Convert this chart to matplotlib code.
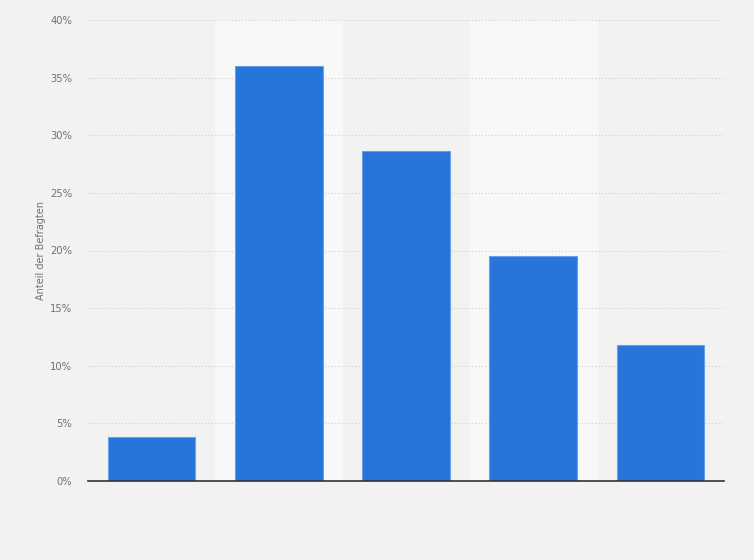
import numpy as np
import matplotlib.pyplot as plt
from matplotlib.ticker import FuncFormatter

categories = ['A', 'B', 'C', 'D', 'E']
values = [3.8, 36.0, 28.6, 19.5, 11.8]
y_ticks = [0, 5, 10, 15, 20, 25, 30, 35, 40]

fig = plt.figure(figsize=(7.54, 5.6), dpi=100)
fig.patch.set_facecolor('#f2f2f2')
ax = fig.add_axes([88 / 754, 79 / 560, 636 / 754, 461 / 560])
ax.set_facecolor('#f2f2f2')

x = np.arange(len(categories))
# lighter bands behind every second column
for i in x:
    if i % 2 == 1:
        ax.axvspan(i - 0.5, i + 0.5, color='#f8f8f8', zorder=0)

ax.bar(x, values, width=0.69, color='#2775db', edgecolor='#6aa0ea',
       linewidth=0.8, zorder=3)

ax.set_xlim(-0.5, len(categories) - 0.5)
ax.set_ylim(0, 40)
ax.set_yticks(y_ticks)
ax.yaxis.set_major_formatter(FuncFormatter(lambda v, p: f'{v:.0f}%'))
ax.set_xticks([])
ax.grid(axis='y', color='#cfcfcf', linestyle=(0, (1, 2)), linewidth=0.8, zorder=1)
ax.tick_params(axis='y', length=0, pad=11.5, labelsize=7.2, labelcolor='#707070')

for s in ['top', 'right', 'left']:
    ax.spines[s].set_visible(False)
ax.spines['bottom'].set_color('#333333')
ax.spines['bottom'].set_linewidth(1.2)
ax.spines['bottom'].set_zorder(4)

ax.set_ylabel('Anteil der Befragten', fontsize=7, color='#707070', labelpad=3)

fig.savefig('out.png', dpi=100, facecolor=fig.get_facecolor())
